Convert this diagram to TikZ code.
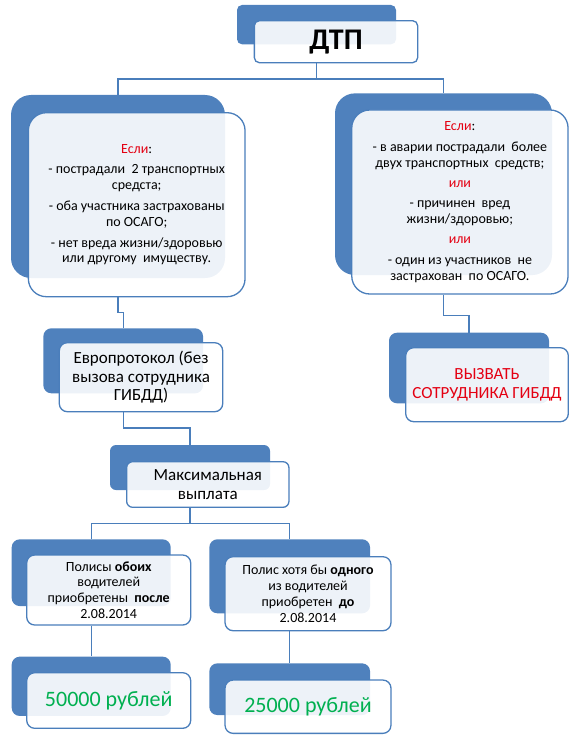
\documentclass[tikz,border=0pt]{standalone}
\usepackage{fontspec}
\setmainfont{Carlito}
\definecolor{sablue}{HTML}{4F81BD}
\definecolor{saline}{HTML}{4A7EBB}
\definecolor{sared}{RGB}{228,0,18}
\definecolor{sagreen}{HTML}{00B050}
\tikzset{
  bbox/.style={fill=sablue, draw=none, rounded corners=#1, inner sep=0pt},
  bbox/.default=6pt,
  wbox/.style={fill=white, fill opacity=0.9, text opacity=1, draw=saline, line width=1.3pt, rounded corners=#1, inner sep=1pt, align=center},
  wbox/.default=6pt,
  conn/.style={draw=saline, line width=1.3pt},
  smalltxt/.style={font=\fontsize{14}{15.8}\selectfont},
  bigtxt/.style={font=\fontsize{17}{18.5}\selectfont},
  sumtxt/.style={text=sagreen, font=\fontsize{22}{26}\selectfont},
}
\begin{document}
\begin{tikzpicture}[x=1pt,y=-1pt]
\useasboundingbox (0,0) rectangle (579,741);
% blue backs
\node[bbox=5pt, minimum width=159pt, minimum height=39.3pt] (dtpB) at (316.5,24.65) {};
\node[bbox=20pt, minimum width=214pt, minimum height=183pt] (leftB) at (118,186.5) {};
\node[bbox=20pt, minimum width=217pt, minimum height=181.7pt] (rightB) at (443.5,184.2) {};
\node[bbox=8pt, minimum width=159.7pt, minimum height=65pt] (euroB) at (123.2,360.8) {};
\node[bbox=8pt, minimum width=160pt, minimum height=70.6pt] (callB) at (469,368) {};
\node[bbox=6pt, minimum width=160pt, minimum height=45pt] (maxB) at (190,467.5) {};
\node[bbox=8pt, minimum width=159pt, minimum height=66.7pt] (p1B) at (91.2,572.7) {};
\node[bbox=8pt, minimum width=160.7pt, minimum height=74pt] (p2B) at (289.7,576.3) {};
\node[bbox=8pt, minimum width=159pt, minimum height=59.3pt] (s1B) at (91.2,686.3) {};
\node[bbox=8pt, minimum width=160.7pt, minimum height=51.7pt] (s2B) at (289.7,689.2) {};
% white fronts with text
\node[wbox=5pt, minimum width=163.3pt, minimum height=42pt] (dtp) at (336,41.7)
  {\fontsize{30}{36}\selectfont\bfseries ДТП};
\node[wbox=18pt, smalltxt, minimum width=216.7pt, minimum height=184pt] (left) at (136.7,204.7)
  {\textcolor{sared}{Если}:\\[5pt]
   - пострадали\ \ 2 транспортных\\ средста;\\[5pt]
   - оба участника застрахованы\\ по ОСАГО;\\[5pt]
   - нет вреда жизни/здоровью\\ или другому\ \ имуществу.};
\node[wbox=18pt, smalltxt, minimum width=216.3pt, minimum height=184pt] (right) at (459.9,202)
  {\textcolor{sared}{Если}:\\[5pt]
   - в аварии пострадали\ \ более\\ двух транспортных\ \ средств;\\[4.5pt]
   \textcolor{sared}{или}\\[4.5pt]
   - причинен\ \ вред\\ жизни/здоровью;\\[4.5pt]
   \textcolor{sared}{или}\\[4.5pt]
   - один из участников\ \ не\\ застрахован\ \ по ОСАГО.};
\node[wbox=8pt, bigtxt, minimum width=163.4pt, minimum height=69pt] (euro) at (141,377.2)
  {Европротокол (без\\ вызова сотрудника\\ ГИБДД)};
\node[wbox=8pt, bigtxt, text=sared, minimum width=162.6pt, minimum height=74pt] (call) at (487,384.7)
  {ВЫЗВАТЬ\\ СОТРУДНИКА ГИБДД};
\node[wbox=6pt, bigtxt, minimum width=162.3pt, minimum height=45.6pt] (max) at (207.8,484.5)
  {Максимальная\\ выплата};
\node[wbox=8pt, smalltxt, minimum width=164pt, minimum height=70pt] (p1) at (108.7,590)
  {Полисы \textbf{обоих}\\ водителей\\ приобретены\ \ \textbf{после}\\ 2.08.2014};
\node[wbox=8pt, smalltxt, minimum width=165.9pt, minimum height=74pt] (p2) at (308,593.7)
  {Полис хотя бы \textbf{одного}\\ из водителей\\ приобретен\ \ \textbf{до}\\ 2.08.2014};
\node[wbox=8pt, sumtxt, minimum width=164pt, minimum height=55.6pt] (s1) at (108.7,700.5)
  {50000 рублей};
\node[wbox=8pt, sumtxt, minimum width=165.9pt, minimum height=53.3pt] (s2) at (308,706.7)
  {25000 рублей};
% connectors
\draw[conn] (dtpB.center |- dtp.south) -- ++(0,15.6) coordinate (j1);
\draw[conn] (leftB.north) |- (j1) -| (rightB.north);
\draw[conn] (leftB.center |- left.south) -- ++(0,15) -| (euroB.north);
\draw[conn] (rightB.center |- right.south) -- ++(0,21) -| (callB.north);
\draw[conn] (euroB.center |- euro.south) -- ++(0,15.5) -| (maxB.north);
\draw[conn] (maxB.center |- max.south) -- ++(0,15.4) coordinate (j2);
\draw[conn] (p1B.north) |- (j2) -| (p2B.north);
\draw[conn] (p1B.center |- p1.south) -- (s1B.north);
\draw[conn] (p2B.center |- p2.south) -- (s2B.north);
\end{tikzpicture}
\end{document}
